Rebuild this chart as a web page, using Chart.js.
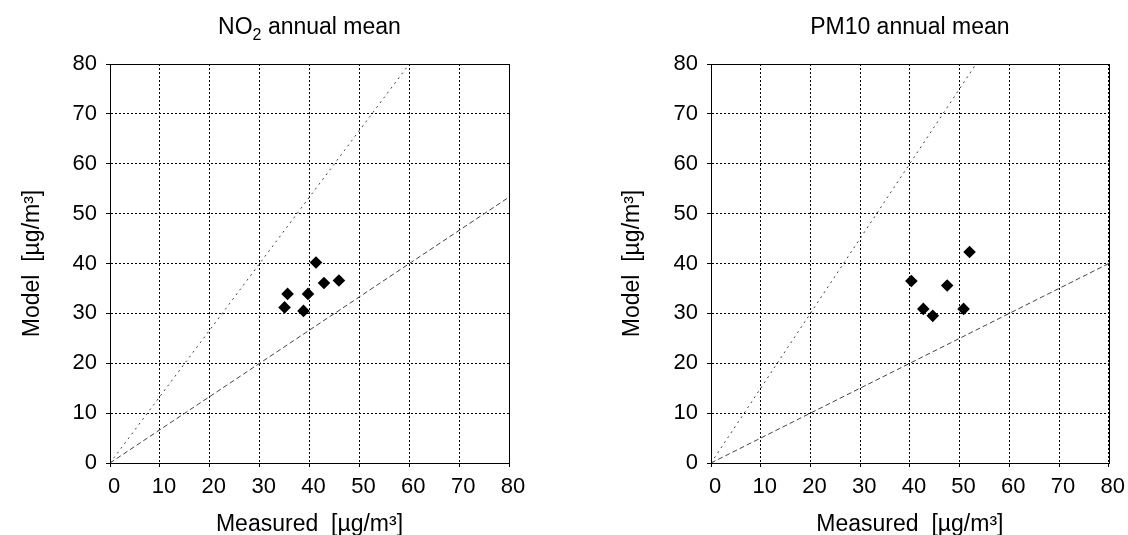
<!DOCTYPE html>
<html>
<head>
<meta charset="utf-8">
<script src="https://cdn.jsdelivr.net/npm/chart.js@4/dist/chart.umd.min.js"></script>
<style>
  html, body { margin: 0; padding: 0; background: #fff; overflow: hidden; }
  .box { position: absolute; top: 0; width: 564px; height: 535px; }
  #left { left: 0; }
  #right { left: 564px; }
</style>
</head>
<body>
<div class="box" id="left"><canvas id="no2Chart" width="564" height="535"></canvas></div>
<div class="box" id="right"><canvas id="pm10Chart" width="564" height="535"></canvas></div>
<script>
// tick values, same on both axes of both plots
var axisTicks = [0, 10, 20, 30, 40, 50, 60, 70, 80];

// NO2 stations (measured vs model)
var no2Measured = [35, 35.6, 38.8, 39.7, 41.3, 42.9, 45.9];
var no2Model    = [31.2, 33.9, 30.5, 33.9, 40.2, 36.1, 36.6];
// PM10 stations
var pm10Measured = [40.3, 42.7, 44.6, 47.5, 50.8, 52.0];
var pm10Model    = [36.5, 30.9, 29.5, 35.6, 30.9, 42.3];

// reference lines (end points)
var no2UpperX = [0, 60],   no2UpperY = [0, 80];
var no2LowerX = [0, 80],   no2LowerY = [0, 53.3];
var pm10UpperX = [0, 53.3], pm10UpperY = [0, 80];
var pm10LowerX = [0, 80],   pm10LowerY = [0, 40];

var FONT = "'Liberation Sans', Arial, Helvetica, sans-serif";

function toPoints(xs, ys) {
  return xs.map(function(x, i) { return { x: x, y: ys[i] }; });
}

// frame round the plot + title with subscript
var framePlugin = {
  id: 'frameTitle',
  afterDraw: function(chart, args, opts) {
    var ctx = chart.ctx, a = chart.chartArea;
    ctx.save();
    ctx.strokeStyle = '#000';
    ctx.lineWidth = 1;
    ctx.strokeRect(Math.round(a.left) + 0.5, Math.round(a.top) + 0.5,
                   Math.round(a.right - a.left), Math.round(a.bottom - a.top));
    var parts = opts.parts || [];
    var total = 0;
    parts.forEach(function(p) {
      ctx.font = (p.sub ? 16 : 23) + 'px ' + FONT;
      p.w = ctx.measureText(p.text).width;
      total += p.w;
    });
    var x = (a.left + a.right) / 2 - total / 2;
    ctx.fillStyle = '#000';
    ctx.textBaseline = 'alphabetic';
    ctx.textAlign = 'left';
    parts.forEach(function(p) {
      ctx.font = (p.sub ? 16 : 23) + 'px ' + FONT;
      ctx.fillText(p.text, x, p.sub ? 40 : 34);
      x += p.w;
    });
    ctx.restore();
  }
};

function makeChart(id, px, py, ux, uy, lx, ly, titleParts, yWidth, yTitlePad, padRight) {
  var ctx = document.getElementById(id).getContext('2d');
  return new Chart(ctx, {
    type: 'scatter',
    data: {
      datasets: [{
        label: 'stations',
        data: toPoints(px, py),
        pointStyle: 'rectRot',
        pointRadius: 6.3,
        backgroundColor: '#000',
        borderColor: '#000',
        borderWidth: 0
      }, {
        label: 'upper',
        data: toPoints(ux, uy),
        showLine: true,
        pointRadius: 0,
        borderColor: '#444',
        borderWidth: 1,
        borderDash: [2, 4]
      }, {
        label: 'lower',
        data: toPoints(lx, ly),
        showLine: true,
        pointRadius: 0,
        borderColor: '#444',
        borderWidth: 1,
        borderDash: [5, 3]
      }]
    },
    options: {
      responsive: false,
      animation: false,
      layout: { padding: { top: 64, right: padRight, bottom: 0, left: 0 } },
      plugins: {
        legend: { display: false },
        tooltip: { enabled: false },
        frameTitle: { parts: titleParts }
      },
      scales: {
        x: {
          type: 'linear', min: 0, max: 80,
          afterBuildTicks: function(s) { s.ticks = axisTicks.map(function(v) { return { value: v }; }); },
          afterFit: function(s) { s.height = 72; },
          grid: { color: '#000', lineWidth: 1, tickLength: 4 },
          border: { color: '#000', width: 1, dash: [2, 2] },
          ticks: { color: '#000', padding: 7, labelOffset: 4, maxRotation: 0, font: { family: FONT, size: 22 } },
          title: { display: true, text: 'Measured  [µg/m³]', color: '#000',
                   padding: { top: 0, bottom: -3 }, font: { family: FONT, size: 23 } }
        },
        y: {
          type: 'linear', min: 0, max: 80,
          afterBuildTicks: function(s) { s.ticks = axisTicks.map(function(v) { return { value: v }; }); },
          afterFit: function(s) { s.width = yWidth; },
          grid: { color: '#000', lineWidth: 1, tickLength: 4 },
          border: { color: '#000', width: 1, dash: [2, 2] },
          ticks: { color: '#000', padding: 9, font: { family: FONT, size: 22 } },
          title: { display: true, text: 'Model  [µg/m³]', color: '#000',
                   padding: { top: yTitlePad, bottom: 0 }, font: { family: FONT, size: 23 } }
        }
      }
    },
    plugins: [framePlugin]
  });
}

makeChart('no2Chart', no2Measured, no2Model, no2UpperX, no2UpperY, no2LowerX, no2LowerY,
  [{ text: 'NO' }, { text: '2', sub: true }, { text: ' annual mean' }], 110, 19, 55);
makeChart('pm10Chart', pm10Measured, pm10Model, pm10UpperX, pm10UpperY, pm10LowerX, pm10LowerY,
  [{ text: 'PM10 annual mean' }], 147, 55, 18);
</script>
</body>
</html>
